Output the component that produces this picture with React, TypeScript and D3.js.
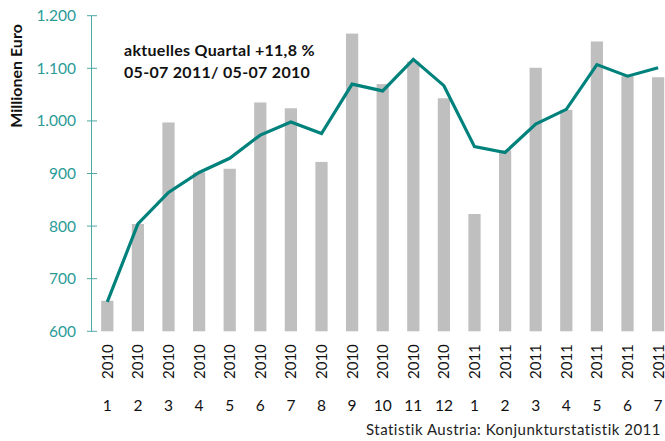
import * as d3 from "d3";

const YEARS = ["2010", "2010", "2010", "2010", "2010", "2010", "2010", "2010", "2010", "2010", "2010", "2010",
  "2011", "2011", "2011", "2011", "2011", "2011", "2011"];
const MONTHS = ["1", "2", "3", "4", "5", "6", "7", "8", "9", "10", "11", "12", "1", "2", "3", "4", "5", "6", "7"];
// monthly values (bars)
const MONTHLY = [658, 804, 997, 902, 909, 1035, 1024, 922, 1166, 1070, 1113, 1043, 823, 944, 1101, 1021, 1151, 1085, 1083];
// moving average (line)
const TREND = [656, 804, 864, 902, 929, 973, 998, 976, 1070, 1057, 1117, 1067, 951, 940, 994, 1022, 1107, 1085, 1101];
const Y_TICKS = [600, 700, 800, 900, 1000, 1100, 1200];

const W = 665;
const H = 441;
const FONT = "Lato, 'Open Sans', sans-serif";
const TEAL = "#00827C";
const TEAL_TEXT = "#2B9B98";

export default function App() {
  const x = d3.scaleBand<number>()
    .domain(MONTHLY.map((_, i) => i))
    .range([92, 673.4])
    .paddingInner(0.6)
    .paddingOuter(0.3);
  const y = d3.scaleLinear().domain([600, 1200]).range([331.3, 15.7]);
  const cx = (i: number) => (x(i) ?? 0) + x.bandwidth() / 2;

  const line = d3.line<number>()
    .x((_, i) => cx(i))
    .y((d) => y(d));

  const fmt = (v: number) => d3.format(",")(v).replace(",", ".");

  return (
    <div style={{ position: "fixed", left: 0, top: 0 }}>
      <svg width={W} height={H} style={{ display: "block", background: "#fff" }} fontFamily={FONT}>
        {/* bars */}
        {MONTHLY.map((v, i) => (
          <rect key={i} x={x(i)} y={y(v)} width={x.bandwidth()} height={y(600) - y(v)} fill="#BFBFBF" />
        ))}

        {/* y axis */}
        <line x1={91.5} x2={91.5} y1={y(1200)} y2={y(600)} stroke="#4DA9A6" strokeWidth={1} />
        {Y_TICKS.map((t) => (
          <g key={t}>
            <line x1={87} x2={97} y1={y(t)} y2={y(t)} stroke="#4DA9A6" strokeWidth={1} />
            <text x={76} y={y(t)} dy="0.35em" textAnchor="end" fontSize={15.5} fill={TEAL_TEXT}>{fmt(t)}</text>
          </g>
        ))}
        <text transform={`translate(22,76) rotate(-90)`} textAnchor="middle" fontSize={16} fontWeight="bold" fill="#111">
          Millionen Euro
        </text>

        {/* trend line */}
        <path d={line(TREND) ?? ""} fill="none" stroke={TEAL} strokeWidth={3.2} strokeLinejoin="miter" />

        {/* x labels */}
        {YEARS.map((yr, i) => (
          <text key={"y" + i} transform={`translate(${cx(i) + 5.5},379) rotate(-90)`} fontSize={15} fill="#111">{yr}</text>
        ))}
        {MONTHS.map((m, i) => (
          <text key={"m" + i} x={cx(i)} y={411} textAnchor="middle" fontSize={15.5} fill="#111">{m}</text>
        ))}

        {/* annotation */}
        <text x={124} y={56} fontSize={16} letterSpacing={0.3} fontWeight="bold" fill="#111">aktuelles Quartal +11,8 %</text>
        <text x={124} y={78} fontSize={16} letterSpacing={0.3} fontWeight="bold" fill="#111">05-07 2011/ 05-07 2010</text>

        <text x={661} y={435} textAnchor="end" fontSize={15} letterSpacing={0.5} fill="#222">Statistik Austria: Konjunkturstatistik 2011</text>
      </svg>
    </div>
  );
}
